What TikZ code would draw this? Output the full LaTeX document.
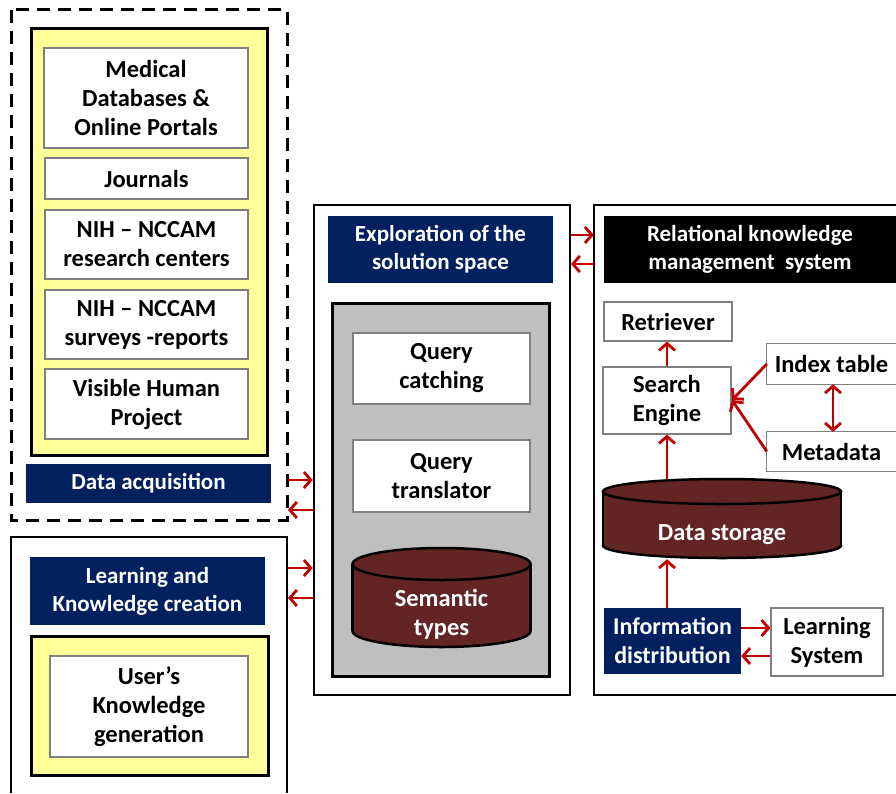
\documentclass[tikz,border=0pt]{standalone}
\usepackage{fontspec}
\setmainfont{Carlito}
\usetikzlibrary{arrows.meta}
\definecolor{navy}{HTML}{002060}
\definecolor{yel}{HTML}{FFFF99}
\definecolor{gry}{HTML}{BFBFBF}
\definecolor{dred}{HTML}{632523}
\definecolor{ared}{HTML}{C00000}
\definecolor{bord}{HTML}{7F7F7F}
\begin{document}
\begin{tikzpicture}[x=1pt,y=-1pt,
  font=\bfseries\fontsize{24.5}{29}\selectfont,
  wbox/.style={draw=bord, fill=white, line width=1.2pt, align=center, inner sep=0pt},
  hdr/.style={fill=navy, text=white, align=center, inner sep=0pt, font=\bfseries\fontsize{23}{28}\selectfont},
  ybox/.style={draw=black, fill=yel, line width=3pt, inner sep=0pt},
  obox/.style={draw=black, line width=2.5pt},
  frame/.style={draw=none, inner sep=0pt},
  cyltext/.style={text=white, align=center, inner sep=0pt},
  arr/.style={draw=ared, line width=2.8pt, -{Straight Barb[length=7pt,width=16pt]}},
  darr/.style={draw=ared, line width=2.8pt, {Straight Barb[length=7pt,width=16pt]}-{Straight Barb[length=7pt,width=16pt]}}]
\useasboundingbox[fill=white] (0,0) rectangle (896,793);

% ---------- left column: data acquisition ----------
\node[frame, minimum width=275, minimum height=510] (dash) at (149.5,265) {};
\draw[line width=3pt, dash pattern=on 13pt off 8pt] (dash.north west) rectangle (dash.south east);
\node[ybox, minimum width=236, minimum height=427] (ya) at (149,241.5) {};
\node[wbox, minimum width=204, minimum height=100] (med) at (146,98) {Medical\\Databases \&\\Online Portals};
\node[wbox, minimum width=203, minimum height=41] (jour) at (146.5,178.5) {Journals};
\node[wbox, minimum width=203, minimum height=69] (nih1) at (146.5,244.5) {NIH -- NCCAM\\research centers};
\node[wbox, minimum width=203, minimum height=69] (nih2) at (146.5,324.5) {NIH -- NCCAM\\surveys -reports};
\node[wbox, minimum width=203, minimum height=70] (vhp) at (146.5,404) {Visible Human\\Project};
\node[hdr, minimum width=245, minimum height=39] (dacq) at (148.5,483.5) {Data acquisition};

% ---------- left column: learning ----------
\node[frame, minimum width=276, minimum height=256] (lko) at (149,665) {};
\draw[obox] (lko.south west) -- (lko.north west) -- (lko.north east) -- (lko.south east);
\node[hdr, minimum width=235, minimum height=68] (lkc) at (147.5,591) {Learning and\\Knowledge creation};
\node[ybox, minimum width=237, minimum height=139] (yb) at (149.5,705.5) {};
\node[wbox, minimum width=198, minimum height=101] (user) at (149,706.5) {User’s\\Knowledge\\generation};

% ---------- middle column ----------
\node[obox, minimum width=256, minimum height=490, inner sep=0pt] (mid) at (442,450) {};
\node[hdr, minimum width=225, minimum height=67] (expl) at (440.5,249.5) {Exploration of the\\solution space};
\node[draw=black, fill=gry, line width=3pt, minimum width=217, minimum height=373, inner sep=0pt] (gray) at (440.5,489.5) {};
\node[wbox, minimum width=177, minimum height=71] (qc) at (441.5,368.5) {Query\\catching};
\node[wbox, minimum width=177, minimum height=72] (qt) at (441.5,476) {Query\\translator};
% semantic types cylinder
\begin{scope}[line width=2.5pt]
  \fill[dred] (352.5,564) rectangle (530.5,631);
  \fill[dred] (441.5,631) ellipse [x radius=89, y radius=16];
  \draw (352.5,564) -- (352.5,631);
  \draw (530.5,564) -- (530.5,631);
  \begin{scope}
    \clip (340,631) rectangle (545,660);
    \draw (441.5,631) ellipse [x radius=89, y radius=16];
  \end{scope}
  \filldraw[fill=dred] (441.5,564) ellipse [x radius=89, y radius=16];
\end{scope}
\node[cyltext] (sem) at (441.5,614) {Semantic\\types};

% ---------- right column ----------
\node[frame, minimum width=302, minimum height=490] (rk) at (745,450) {};
\draw[obox] (rk.north east) -- (rk.north west) -- (rk.south west) -- (rk.south east);
\node[fill=black, text=white, align=center, inner sep=0pt, font=\bfseries\fontsize{23}{28}\selectfont, minimum width=292, minimum height=67] (rkh) at (750,249.5) {Relational knowledge\\management\ \ system};
\node[wbox, minimum width=128, minimum height=39] (retr) at (668,321.5) {Retriever};
\node[wbox, minimum width=128, minimum height=67] (se) at (667,400.5) {Search\\Engine};
\node[frame, minimum width=129, minimum height=40] (idx) at (831.5,364) {Index table};
\draw[draw=bord, line width=1.2pt] (idx.north east) -- (idx.north west) -- (idx.south west) -- (idx.south east);
\node[frame, minimum width=129, minimum height=39] (meta) at (831.5,451.5) {Metadata};
\draw[draw=bord, line width=1.2pt] (meta.north east) -- (meta.north west) -- (meta.south west) -- (meta.south east);
% data storage cylinder
\node[frame, minimum width=238, minimum height=80] (ds) at (722,519) {};
\begin{scope}[line width=2.5pt]
  \fill[dred] (603,491.5) rectangle (841,545.5);
  \fill[dred] (722,545.5) ellipse [x radius=119, y radius=12.5];
  \draw (603,491.5) -- (603,545.5);
  \draw (841,491.5) -- (841,545.5);
  \begin{scope}
    \clip (590,545.5) rectangle (855,570);
    \draw (722,545.5) ellipse [x radius=119, y radius=12.5];
  \end{scope}
  \filldraw[fill=dred] (722,491.5) ellipse [x radius=119, y radius=12.5];
\end{scope}
\node[cyltext] (dst) at (722,535) {Data storage};
\node[hdr, font=\bfseries\fontsize{24}{29}\selectfont, minimum width=137, minimum height=66] (info) at (672.5,641) {Information\\distribution};
\node[wbox, minimum width=112, minimum height=68] (lsys) at (827,642) {Learning\\System};

% ---------- connectors ----------
\coordinate (a1) at (288,480); \coordinate (a2) at (288,510);
\coordinate (a3) at (288,568); \coordinate (a4) at (288,598);
\draw[arr] (a1) -- (a1 -| mid.west);
\draw[arr] (a2 -| mid.west) -- (a2);
\draw[arr] (a3) -- (a3 -| mid.west);
\draw[arr] (a4 -| mid.west) -- (a4);
\coordinate (b1) at (571,235); \coordinate (b2) at (571,264);
\draw[arr] (b1) -- (b1 -| rk.west);
\draw[arr] (b2 -| rk.west) -- (b2);
\draw[arr] (se.north) -- (retr.south -| se.north);
\draw[arr] (ds.north -| se.south) -- (se.south);
\draw[arr] (info.north -| se.south) -- (ds.south -| se.south);
\coordinate (sep) at (732,400);
\draw[arr] (idx.west) -- (sep);
\draw[arr] (meta.west) -- (sep);
\draw[darr] (idx.south -| 833,0) -- (meta.north -| 833,0);
\coordinate (c1) at (0,628); \coordinate (c2) at (0,656);
\draw[arr] (c1 -| info.east) -- (c1 -| lsys.west);
\draw[arr] (c2 -| lsys.west) -- (c2 -| info.east);
\end{tikzpicture}
\end{document}
